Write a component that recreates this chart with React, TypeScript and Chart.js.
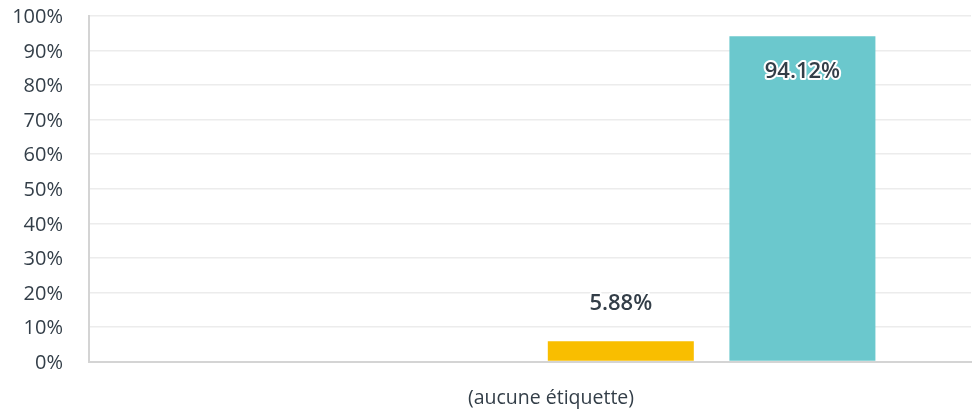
import React, { useEffect, useRef } from 'react';
import { Chart, registerables } from 'chart.js';

Chart.register(...registerables);

const categories = ['(aucune étiquette)'];
const seriesNames = ['Série 1', 'Série 2', 'Série 3', 'Série 4'];
const series1 = [0];
const series2 = [0];
const series3 = [5.88];
const series4 = [94.12];
const seriesColors = ['#00BF6F', '#507CB6', '#F9BE00', '#6BC8CD'];
const yTicks = [0, 10, 20, 30, 40, 50, 60, 70, 80, 90, 100];

const FONT = '"Open Sans", "Noto Sans", sans-serif';
const TEXT = '#333e48';

const labelPlugin = {
  id: 'valueLabels',
  afterDatasetsDraw(chart: any) {
    const ctx = chart.ctx;
    chart.data.datasets.forEach((ds: any, i: number) => {
      const meta = chart.getDatasetMeta(i);
      meta.data.forEach((bar: any, j: number) => {
        const v = ds.data[j];
        if (!v) return;
        const inside = v > 50;
        const y = inside ? bar.y + 35 : bar.y - 37;
        const txt = v.toFixed(2) + '%';
        ctx.save();
        ctx.font = `600 22px ${FONT}`;
        ctx.textAlign = 'center';
        ctx.textBaseline = 'middle';
        ctx.lineJoin = 'round';
        ctx.lineWidth = 4;
        ctx.strokeStyle = '#ffffff';
        ctx.strokeText(txt, bar.x, y);
        ctx.fillStyle = TEXT;
        ctx.fillText(txt, bar.x, y);
        ctx.restore();
      });
    });
  },
};

export default function App() {
  const ref = useRef<HTMLCanvasElement | null>(null);
  useEffect(() => {
    if (!ref.current) return;
    const allSeries = [series1, series2, series3, series4];
    const chart = new Chart(ref.current, {
      type: 'bar',
      data: {
        labels: categories,
        datasets: allSeries.map((d, i) => ({
          label: seriesNames[i],
          data: d,
          backgroundColor: seriesColors[i],
          borderWidth: 0,
          categoryPercentage: 0.8236,
          barPercentage: 0.804,
        })),
      },
      options: {
        animation: false,
        responsive: true,
        maintainAspectRatio: false,
        layout: { padding: { top: 16, right: 1, left: 0, bottom: 0 } },
        plugins: {
          legend: { display: false },
          tooltip: { enabled: false },
        },
        scales: {
          x: {
            grid: { display: false, drawTicks: false },
            border: { color: '#d4d4d4', width: 2 },
            ticks: {
              color: TEXT,
              font: { family: FONT, size: 19.5 },
              padding: 25,
              labelOffset: 21,
            },
            afterFit(scale: any) {
              scale.height = 54.5;
              scale.paddingLeft = 0;
              scale.paddingRight = 0;
            },
          },
          y: {
            min: 0,
            max: 100,
            afterBuildTicks(scale: any) {
              scale.ticks = yTicks.map((v) => ({ value: v }));
            },
            grid: { color: '#ececec', lineWidth: 1.5, drawTicks: false },
            border: { color: '#d4d4d4', width: 2 },
            ticks: {
              color: TEXT,
              font: { family: FONT, size: 20 },
              padding: 26,
              labelOffset: 1.5,
              callback: (v: any) => v + '%',
            },
            afterFit(scale: any) {
              scale.width = 89;
              scale.paddingTop = 0;
              scale.paddingBottom = 0;
            },
          },
        },
      },
      plugins: [labelPlugin],
    });
    return () => chart.destroy();
  }, []);
  return (
    <div style={{ position: 'fixed', left: 0, top: 0, width: 972, height: 416 }}>
      <canvas ref={ref} />
    </div>
  );
}
